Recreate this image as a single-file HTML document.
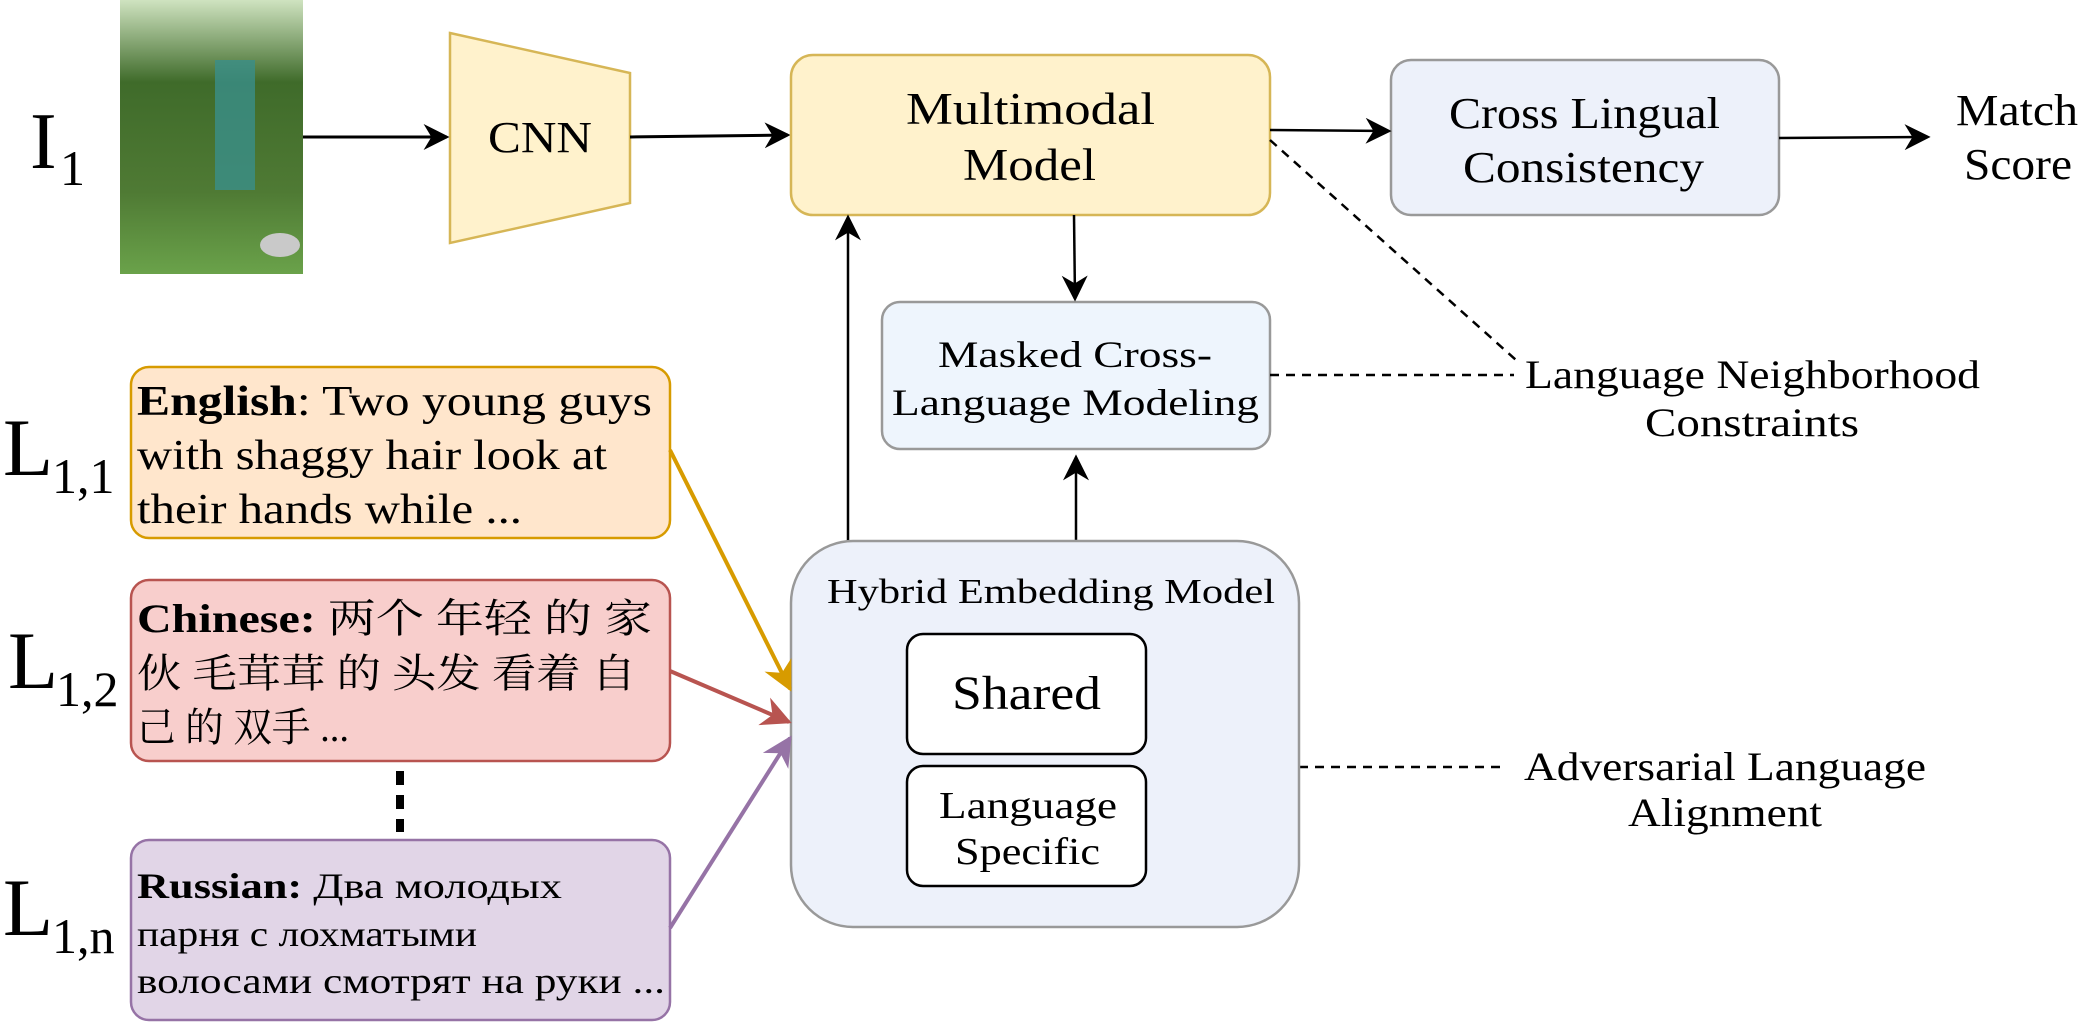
<!DOCTYPE html>
<html><head><meta charset="utf-8"><style>
html,body{margin:0;padding:0;background:#fff;}
svg{display:block;font-family:"Liberation Serif","Noto Serif CJK SC",serif;}
</style></head><body>
<svg width="2085" height="1023" viewBox="0 0 2085 1023" xmlns="http://www.w3.org/2000/svg">
<defs>
<marker id="abig" viewBox="0 0 10 10" markerWidth="26" markerHeight="26" refX="9" refY="5" orient="auto" markerUnits="userSpaceOnUse"><path d="M0,0 L10,5 L0,10 L3,5 z" fill="#000"/></marker>
<marker id="ao" viewBox="0 0 10 10" markerWidth="30" markerHeight="30" refX="9" refY="5" orient="auto" markerUnits="userSpaceOnUse"><path d="M0,0 L10,5 L0,10 L3,5 z" fill="#d79b00"/></marker>
<marker id="ar" viewBox="0 0 10 10" markerWidth="30" markerHeight="30" refX="9" refY="5" orient="auto" markerUnits="userSpaceOnUse"><path d="M0,0 L10,5 L0,10 L3,5 z" fill="#b85450"/></marker>
<marker id="ap" viewBox="0 0 10 10" markerWidth="30" markerHeight="30" refX="9" refY="5" orient="auto" markerUnits="userSpaceOnUse"><path d="M0,0 L10,5 L0,10 L3,5 z" fill="#9673a6"/></marker>
<linearGradient id="g" x1="0" y1="0" x2="0" y2="1"><stop offset="0" stop-color="#cfe3c0"/><stop offset="0.3" stop-color="#3f6b2a"/><stop offset="0.7" stop-color="#4f7a34"/><stop offset="1" stop-color="#6aa24a"/></linearGradient>
</defs>

<rect x="120" y="0" width="183" height="274" fill="url(#g)"/>
<rect x="215" y="60" width="40" height="130" fill="#3a8f8a" opacity="0.8"/>
<ellipse cx="280" cy="245" rx="20" ry="12" fill="#c9c9c9"/>

<text x="30" y="168" font-size="80">I</text><text x="60" y="185" font-size="50">1</text>

<polygon points="450,33 630,73 630,203 450,243" fill="#fff2cc" stroke="#d6b656" stroke-width="2.5"/>
<text x="488" y="152" font-size="44" textLength="104" lengthAdjust="spacingAndGlyphs">CNN</text>

<line x1="303" y1="137" x2="447" y2="137" stroke="#000" stroke-width="3" marker-end="url(#abig)"/>
<line x1="630" y1="137" x2="788" y2="135" stroke="#000" stroke-width="3" marker-end="url(#abig)"/>

<rect x="791" y="55" width="479" height="160" rx="22" fill="#fff2cc" stroke="#d6b656" stroke-width="2.5"/>
<text x="906" y="124" font-size="45" textLength="249" lengthAdjust="spacingAndGlyphs">Multimodal</text>
<text x="963" y="180" font-size="45" textLength="133" lengthAdjust="spacingAndGlyphs">Model</text>

<rect x="1391" y="60" width="388" height="155" rx="20" fill="#edf1fa" stroke="#999" stroke-width="2.5"/>
<text x="1449" y="128" font-size="44" textLength="271" lengthAdjust="spacingAndGlyphs">Cross Lingual</text>
<text x="1463" y="182" font-size="44" textLength="241" lengthAdjust="spacingAndGlyphs">Consistency</text>
<line x1="1270" y1="130" x2="1389" y2="131" stroke="#000" stroke-width="2.5" marker-end="url(#abig)"/>
<line x1="1779" y1="138" x2="1928" y2="137" stroke="#000" stroke-width="2.5" marker-end="url(#abig)"/>
<text x="1956" y="125" font-size="44" textLength="122" lengthAdjust="spacingAndGlyphs">Match</text>
<text x="1964" y="179" font-size="44" textLength="108" lengthAdjust="spacingAndGlyphs">Score</text>

<rect x="882" y="302" width="388" height="147" rx="18" fill="#eef5fd" stroke="#999" stroke-width="2.5"/>
<text x="938" y="367" font-size="37" textLength="274" lengthAdjust="spacingAndGlyphs">Masked Cross-</text>
<text x="892" y="415" font-size="37" textLength="367" lengthAdjust="spacingAndGlyphs">Language Modeling</text>
<line x1="1074" y1="215" x2="1075" y2="299" stroke="#000" stroke-width="2.5" marker-end="url(#abig)"/>
<line x1="1076" y1="541" x2="1076" y2="457" stroke="#000" stroke-width="2.5" marker-end="url(#abig)"/>
<line x1="848" y1="541" x2="848" y2="217" stroke="#000" stroke-width="2.5" marker-end="url(#abig)"/>

<line x1="1270" y1="140" x2="1516" y2="360" stroke="#000" stroke-width="2.5" stroke-dasharray="9,7"/>
<line x1="1270" y1="375" x2="1514" y2="375" stroke="#000" stroke-width="2.5" stroke-dasharray="9,7"/>
<text x="1525" y="388" font-size="40" textLength="455" lengthAdjust="spacingAndGlyphs">Language Neighborhood</text>
<text x="1645" y="436" font-size="40" textLength="214" lengthAdjust="spacingAndGlyphs">Constraints</text>
<line x1="1299" y1="767" x2="1505" y2="767" stroke="#000" stroke-width="2.5" stroke-dasharray="9,7"/>
<text x="1524" y="780" font-size="40" textLength="402" lengthAdjust="spacingAndGlyphs">Adversarial Language</text>
<text x="1628" y="826" font-size="40" textLength="194" lengthAdjust="spacingAndGlyphs">Alignment</text>

<rect x="791" y="541" width="508" height="386" rx="62" fill="#edf1fa" stroke="#999" stroke-width="2.5"/>
<text x="827" y="603" font-size="35" textLength="448" lengthAdjust="spacingAndGlyphs">Hybrid Embedding Model</text>
<rect x="907" y="634" width="239" height="120" rx="16" fill="#fff" stroke="#000" stroke-width="2.5"/>
<text x="952" y="709" font-size="48" textLength="149" lengthAdjust="spacingAndGlyphs">Shared</text>
<rect x="907" y="766" width="239" height="120" rx="16" fill="#fff" stroke="#000" stroke-width="2.5"/>
<text x="939" y="818" font-size="38" textLength="178" lengthAdjust="spacingAndGlyphs">Language</text>
<text x="955" y="864" font-size="38" textLength="145" lengthAdjust="spacingAndGlyphs">Specific</text>

<rect x="131" y="367" width="539" height="171" rx="18" fill="#ffe6cc" stroke="#d79b00" stroke-width="2.5"/>
<text x="137" y="415" font-size="42" textLength="515" lengthAdjust="spacingAndGlyphs"><tspan font-weight="bold">English</tspan>: Two young guys</text>
<text x="137" y="469" font-size="42" textLength="470" lengthAdjust="spacingAndGlyphs">with shaggy hair look at</text>
<text x="137" y="523" font-size="42" textLength="385" lengthAdjust="spacingAndGlyphs">their hands while ...</text>

<rect x="131" y="580" width="539" height="181" rx="18" fill="#f8cecc" stroke="#b85450" stroke-width="2.5"/>
<text x="137" y="632" font-size="40" textLength="515" lengthAdjust="spacingAndGlyphs"><tspan font-weight="bold">Chinese:</tspan> 两个 年轻 的 家</text>
<text x="137" y="687" font-size="40" textLength="499" lengthAdjust="spacingAndGlyphs">伙 毛茸茸 的 头发 看着 自</text>
<text x="137" y="741" font-size="40" textLength="212" lengthAdjust="spacingAndGlyphs">己 的 双手 ...</text>

<line x1="400" y1="771" x2="400" y2="832" stroke="#000" stroke-width="8" stroke-dasharray="14,10"/>

<rect x="131" y="840" width="539" height="180" rx="18" fill="#e1d5e7" stroke="#9673a6" stroke-width="2.5"/>
<text x="137" y="898" font-size="36" textLength="425" lengthAdjust="spacingAndGlyphs"><tspan font-weight="bold">Russian:</tspan> Два молодых</text>
<text x="137" y="946" font-size="36" textLength="340" lengthAdjust="spacingAndGlyphs">парня с лохматыми</text>
<text x="137" y="993" font-size="36" textLength="528" lengthAdjust="spacingAndGlyphs">волосами смотрят на руки ...</text>

<text x="3" y="475" font-size="82">L</text><text x="52" y="493" font-size="50">1,1</text>
<text x="8" y="688" font-size="82">L</text><text x="56" y="706" font-size="50">1,2</text>
<text x="3" y="935" font-size="82">L</text><text x="52" y="953" font-size="50">1,n</text>

<line x1="670" y1="450" x2="790" y2="689" stroke="#d79b00" stroke-width="4" marker-end="url(#ao)"/>
<line x1="670" y1="671" x2="789" y2="722" stroke="#b85450" stroke-width="4" marker-end="url(#ar)"/>
<line x1="670" y1="928" x2="790" y2="738" stroke="#9673a6" stroke-width="4" marker-end="url(#ap)"/>
</svg>
</body></html>
